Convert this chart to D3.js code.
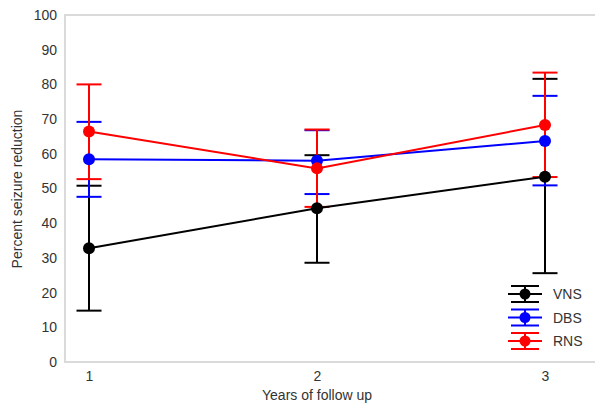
<!DOCTYPE html>
<html><head><meta charset="utf-8">
<script src="https://cdn.jsdelivr.net/npm/d3@7"></script>
<style>body{margin:0;background:#fff}svg{display:block}text{font-family:"Liberation Sans",Arial,sans-serif}</style>
</head><body>
<svg id="c" width="595" height="403"></svg>
<script>
const years = [1, 2, 3];
const seriesNames = ["VNS", "DBS", "RNS"];
const colors = ["#000000", "#0000ff", "#ff0000"];
const vnsMean = [32.8, 44.3, 53.4];
const vnsLow = [14.8, 28.6, 25.6];
const vnsHigh = [50.8, 59.6, 81.6];
const dbsMean = [58.4, 58.0, 63.7];
const dbsLow = [47.6, 48.4, 50.9];
const dbsHigh = [69.2, 66.8, 76.7];
const rnsMean = [66.4, 55.8, 68.3];
const rnsLow = [52.7, 44.7, 53.3];
const rnsHigh = [80.0, 67.0, 83.4];
const yTicks = [0, 10, 20, 30, 40, 50, 60, 70, 80, 90, 100];

const series = [
  {name: seriesNames[0], color: colors[0], mean: vnsMean, low: vnsLow, high: vnsHigh},
  {name: seriesNames[1], color: colors[1], mean: dbsMean, low: dbsLow, high: dbsHigh},
  {name: seriesNames[2], color: colors[2], mean: rnsMean, low: rnsLow, high: rnsHigh}
];

const svg = d3.select("#c");
const x = d3.scaleLinear().domain([1, 3]).range([89, 545]);
const y = d3.scaleLinear().domain([0, 100]).range([362, 15]);

// frame
svg.append("path").attr("d", `M595,${y(100)}H65V${y(0)}H595`)
  .attr("fill", "none").attr("stroke", "#dadada").attr("stroke-width", 2);

const font = '"Liberation Sans",Arial,sans-serif';
// y axis labels
const ya = svg.append("g").attr("transform", "translate(65,0)")
  .call(d3.axisLeft(y).tickValues(yTicks).tickSize(0).tickPadding(8));
ya.select(".domain").remove();
ya.selectAll("text").attr("font-size", 14).attr("fill", "#333").attr("font-family", font);

const xa = svg.append("g").attr("transform", `translate(0,${y(0)})`)
  .call(d3.axisBottom(x).tickValues(years).tickFormat(d3.format("d")).tickSize(0).tickPadding(9));
xa.select(".domain").remove();
xa.selectAll("text").attr("font-size", 14).attr("fill", "#333").attr("font-family", font);

svg.append("text").attr("x", 317).attr("y", 400).attr("text-anchor", "middle")
  .attr("font-size", 14).attr("fill", "#333").text("Years of follow up");
svg.append("text").attr("transform", "translate(22,189) rotate(-90)").attr("text-anchor", "middle")
  .attr("font-size", 14).attr("fill", "#333").text("Percent seizure reduction");

const capW = 12.5;
// error bars
series.forEach(s => {
  const g = svg.append("g").attr("stroke", s.color).attr("stroke-width", 2).attr("fill", "none");
  years.forEach((yr, i) => {
    g.append("line").attr("x1", x(yr)).attr("x2", x(yr)).attr("y1", y(s.low[i])).attr("y2", y(s.high[i]));
    g.append("line").attr("x1", x(yr) - capW).attr("x2", x(yr) + capW).attr("y1", y(s.low[i])).attr("y2", y(s.low[i]));
    g.append("line").attr("x1", x(yr) - capW).attr("x2", x(yr) + capW).attr("y1", y(s.high[i])).attr("y2", y(s.high[i]));
  });
});
// lines and dots
const line = d3.line().x((d, i) => x(years[i])).y(d => y(d));
series.forEach(s => {
  svg.append("path").attr("d", line(s.mean)).attr("fill", "none").attr("stroke", s.color).attr("stroke-width", 2);
  svg.append("g").selectAll("circle").data(s.mean).join("circle")
    .attr("cx", (d, i) => x(years[i])).attr("cy", d => y(d)).attr("r", 6).attr("fill", s.color);
});

// legend
const lg = svg.append("g");
series.forEach((s, i) => {
  const cy = 294 + i * 23.5, cx = 525;
  const g = lg.append("g").attr("stroke", s.color).attr("stroke-width", 2);
  g.append("line").attr("x1", cx - 17).attr("x2", cx + 17).attr("y1", cy).attr("y2", cy);
  g.append("line").attr("x1", cx - 14).attr("x2", cx + 14).attr("y1", cy - 8).attr("y2", cy - 8);
  g.append("line").attr("x1", cx - 14).attr("x2", cx + 14).attr("y1", cy + 8).attr("y2", cy + 8);
  g.append("line").attr("x1", cx).attr("x2", cx).attr("y1", cy - 8).attr("y2", cy + 8);
  lg.append("circle").attr("cx", cx).attr("cy", cy).attr("r", 5.5).attr("fill", s.color);
  lg.append("text").attr("x", 553).attr("y", cy + 5).attr("font-size", 14).attr("fill", "#333").text(s.name);
});
</script>
</body></html>
